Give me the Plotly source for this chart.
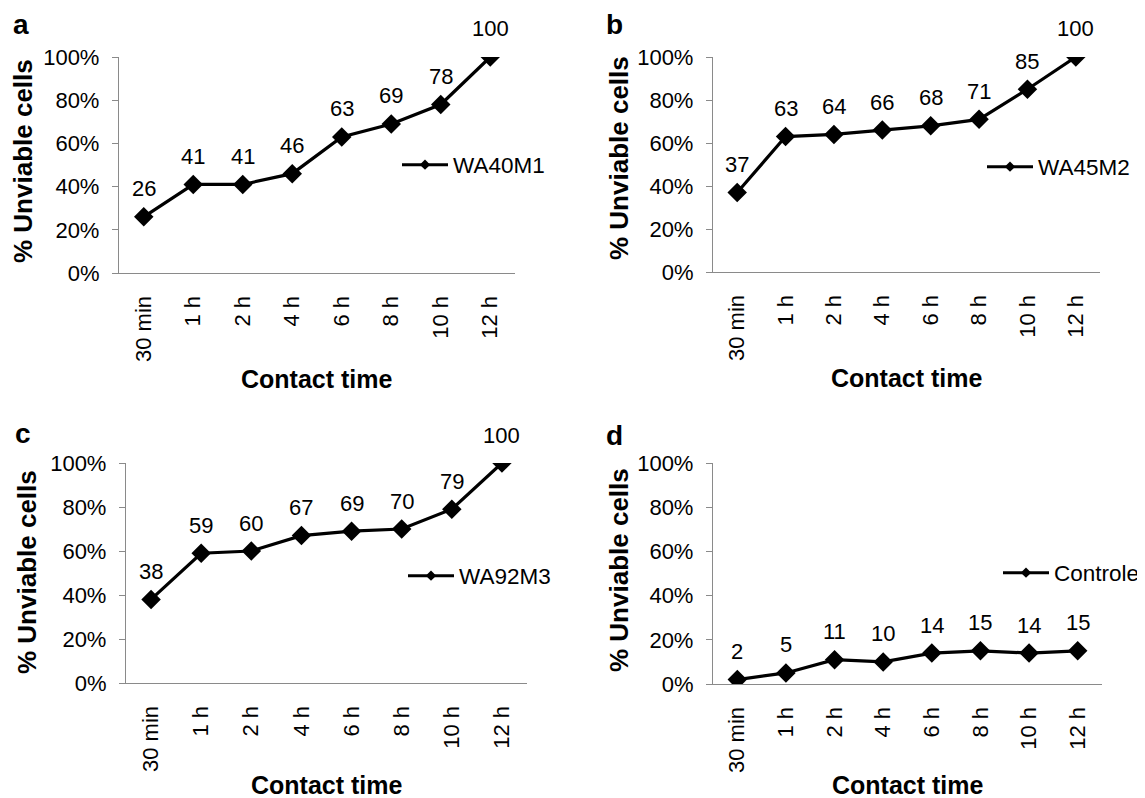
import plotly.graph_objects as go

W, H = 1145, 798
OFF = 8  # the page body adds an 8 px margin around the figure

categories = ["30 min", "1 h", "2 h", "4 h", "6 h", "8 h", "10 h", "12 h"]
wa40m1 = [26, 41, 41, 46, 63, 69, 78, 100]
wa45m2 = [37, 63, 64, 66, 68, 71, 85, 100]
wa92m3 = [38, 59, 60, 67, 69, 70, 79, 100]
controle = [2, 5, 11, 10, 14, 15, 14, 15]

series_names = ["WA40M1", "WA45M2", "WA92M3", "Controle"]
series_values = [wa40m1, wa45m2, wa92m3, controle]
panel_letters = ["a", "b", "c", "d"]
y_ticks = [0, 20, 40, 60, 80, 100]
y_title = "% Unviable cells"
x_title = "Contact time"

FONT = "Liberation Sans, Arial, sans-serif"
AXIS_COLOR = "#8a8a8a"

# panel geometry in page pixels: (x0, x1, ytop, ybottom)
boxes = [(119, 515, 57, 273), (713, 1100, 57, 272), (126, 527, 463, 683), (713, 1102, 463, 684)]
# legend line start (px) and centre y
leg_pos = [(402, 165), (987, 167), (408, 576), (1003, 573)]
letter_pos = [(21, 24), (614, 24), (23, 433), (614, 435)]
ytitle_pos = [(23, 161), (619, 158), (27, 572), (619, 570)]
xtitle_y = [379, 378, 785, 785]


def px(x):
    return (x - OFF) / W


def py(y):
    return 1 - (y - OFF) / H


fig = go.Figure()
layout = dict(
    width=W, height=H, margin=dict(l=0, r=0, t=0, b=0, autoexpand=False),
    paper_bgcolor="white", plot_bgcolor="white",
    font=dict(family=FONT, size=22, color="black"),
    annotations=[],
)

for i, (name, vals) in enumerate(zip(series_names, series_values)):
    n = "" if i == 0 else str(i + 1)
    xa, ya = "x" + n, "y" + n
    leg = "legend" + n
    x0, x1, yt, yb = boxes[i]
    fig.add_trace(go.Scatter(
        x=categories, y=vals, xaxis=xa, yaxis=ya, mode="lines+markers",
        line=dict(color="black", width=3.2),
        marker=dict(symbol="diamond", size=15, color="black"),
        showlegend=False, hoverinfo="skip",
    ))
    # legend entry (smaller symbol like the original)
    fig.add_trace(go.Scatter(
        x=[None], y=[None], xaxis=xa, yaxis=ya, mode="lines+markers", name=name,
        line=dict(color="black", width=3),
        marker=dict(symbol="diamond", size=8, color="black"),
        showlegend=True, legend=leg,
    ))
    layout["xaxis" + n] = dict(
        domain=[px(x0), px(x1)], anchor=ya, type="category",
        categoryorder="array", categoryarray=categories,
        range=[-0.5, len(categories) - 0.5],
        showline=True, linecolor=AXIS_COLOR, linewidth=1.3,
        ticks="", tickangle=-90, ticklabelstandoff=13,
        tickfont=dict(size=22, color="black"), showgrid=False, zeroline=False,
        fixedrange=True,
    )
    layout["yaxis" + n] = dict(
        domain=[py(yb), py(yt)], anchor=xa, range=[0, 100],
        tickvals=y_ticks, ticktext=[f"{v}%" for v in y_ticks],
        showline=True, linecolor=AXIS_COLOR, linewidth=1.3,
        ticks="outside", ticklen=6, tickcolor=AXIS_COLOR, tickwidth=1.3,
        ticklabelstandoff=8,
        tickfont=dict(size=22, color="black"), showgrid=False, zeroline=False,
        fixedrange=True,
    )
    lx, ly = leg_pos[i]
    layout[leg] = dict(
        x=px(lx - 5), y=py(ly), xanchor="left", yanchor="middle",
        bgcolor="rgba(0,0,0,0)", borderwidth=0, itemwidth=46,
        font=dict(size=22.5, color="black"), tracegroupgap=0,
    )
    # data labels
    for c, v in zip(categories, vals):
        layout["annotations"].append(dict(
            x=c, y=v, xref=xa, yref=ya, text=str(v), showarrow=False,
            yshift=28, font=dict(size=22, color="black"),
        ))
    # panel letter
    lx, ly = letter_pos[i]
    layout["annotations"].append(dict(
        x=px(lx), y=py(ly), xref="paper", yref="paper", text=f"<b>{panel_letters[i]}</b>",
        showarrow=False, xanchor="center", yanchor="middle",
        font=dict(size=28, color="black"),
    ))
    # axis titles
    tx, ty = ytitle_pos[i]
    layout["annotations"].append(dict(
        x=px(tx), y=py(ty), xref="paper", yref="paper", text=f"<b>{y_title}</b>",
        showarrow=False, xanchor="center", yanchor="middle", textangle=-90,
        font=dict(size=26, color="black"),
    ))
    layout["annotations"].append(dict(
        x=px((x0 + x1) / 2), y=py(xtitle_y[i]), xref="paper", yref="paper",
        text=f"<b>{x_title}</b>", showarrow=False, xanchor="center", yanchor="middle",
        font=dict(size=25, color="black"),
    ))

fig.update_layout(**layout)
fig.write_html("out.html")
